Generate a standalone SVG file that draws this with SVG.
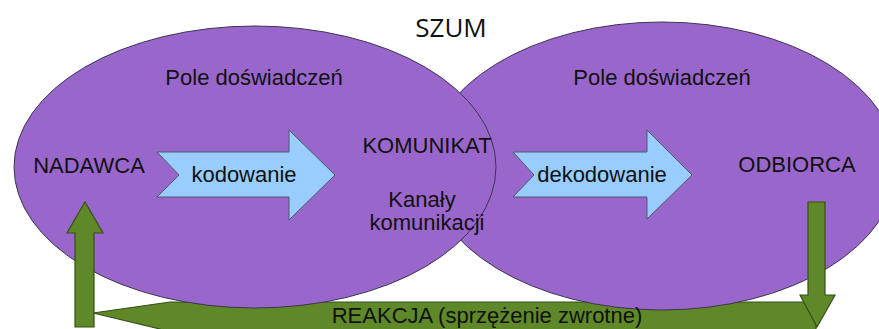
<svg xmlns="http://www.w3.org/2000/svg" width="879" height="329" viewBox="0 0 879 329">
  <style>
    .ell { fill: #9966cc; stroke: #3d3550; stroke-width: 1; }
    .blue { fill: #99ccff; stroke: #4d5a66; stroke-width: 1; }
    .green { fill: #5f8828; stroke: #34501a; stroke-width: 1.2; }
    .t { font-family: "Liberation Sans", Arial, sans-serif; font-size: 22px; fill: #111; text-anchor: middle; }
    .szum { font-family: "Open Sans", "Liberation Sans", sans-serif; font-size: 26px; fill: #111; text-anchor: middle; }
  </style>
  <rect width="879" height="329" fill="#ffffff"/>

  <g id="connectors">
    <polygon id="reakcja-bar" class="green" points="93,313 170,302 816,302 816,345 170,345 160,329"/>
  </g>

  <g id="odbiorca-field">
    <ellipse class="ell" cx="662" cy="166" rx="235" ry="144"/>
  </g>
  <g id="nadawca-field">
    <ellipse class="ell" cx="255" cy="167" rx="241" ry="141"/>
  </g>

  <g id="kodowanie">
    <polygon class="blue" points="157,152 289,152 289,130 335,175 289,220 289,197 157,197 179,175"/>
    <text class="t" x="244" y="182">kodowanie</text>
  </g>
  <g id="dekodowanie">
    <polygon class="blue" points="513,152 647,152 647,130 692,175 647,219 647,197 513,197 534,175"/>
    <text class="t" x="602" y="182">dekodowanie</text>
  </g>

  <g id="reakcja-up">
    <polygon class="green" points="75,327 75,233 67,233 85,202 103,233 94,233 94,327"/>
  </g>
  <g id="reakcja-down">
    <polygon class="green" points="808,202 825,202 825,295 835,295 817,327 800,295 808,295"/>
  </g>

  <g id="szum">
    <text class="szum" x="451" y="37">SZUM</text>
  </g>
  <g id="nadawca">
    <text class="t" x="254" y="85">Pole doświadczeń</text>
    <text class="t" x="89" y="173">NADAWCA</text>
  </g>
  <g id="odbiorca">
    <text class="t" x="662" y="85">Pole doświadczeń</text>
    <text class="t" x="797" y="172">ODBIORCA</text>
  </g>
  <g id="komunikat">
    <text class="t" x="427" y="153">KOMUNIKAT</text>
    <text class="t" x="422" y="207">Kanały</text>
    <text class="t" x="427" y="230">komunikacji</text>
  </g>
  <g id="reakcja-label">
    <text class="t" x="487" y="323">REAKCJA (sprzężenie zwrotne)</text>
  </g>
</svg>
